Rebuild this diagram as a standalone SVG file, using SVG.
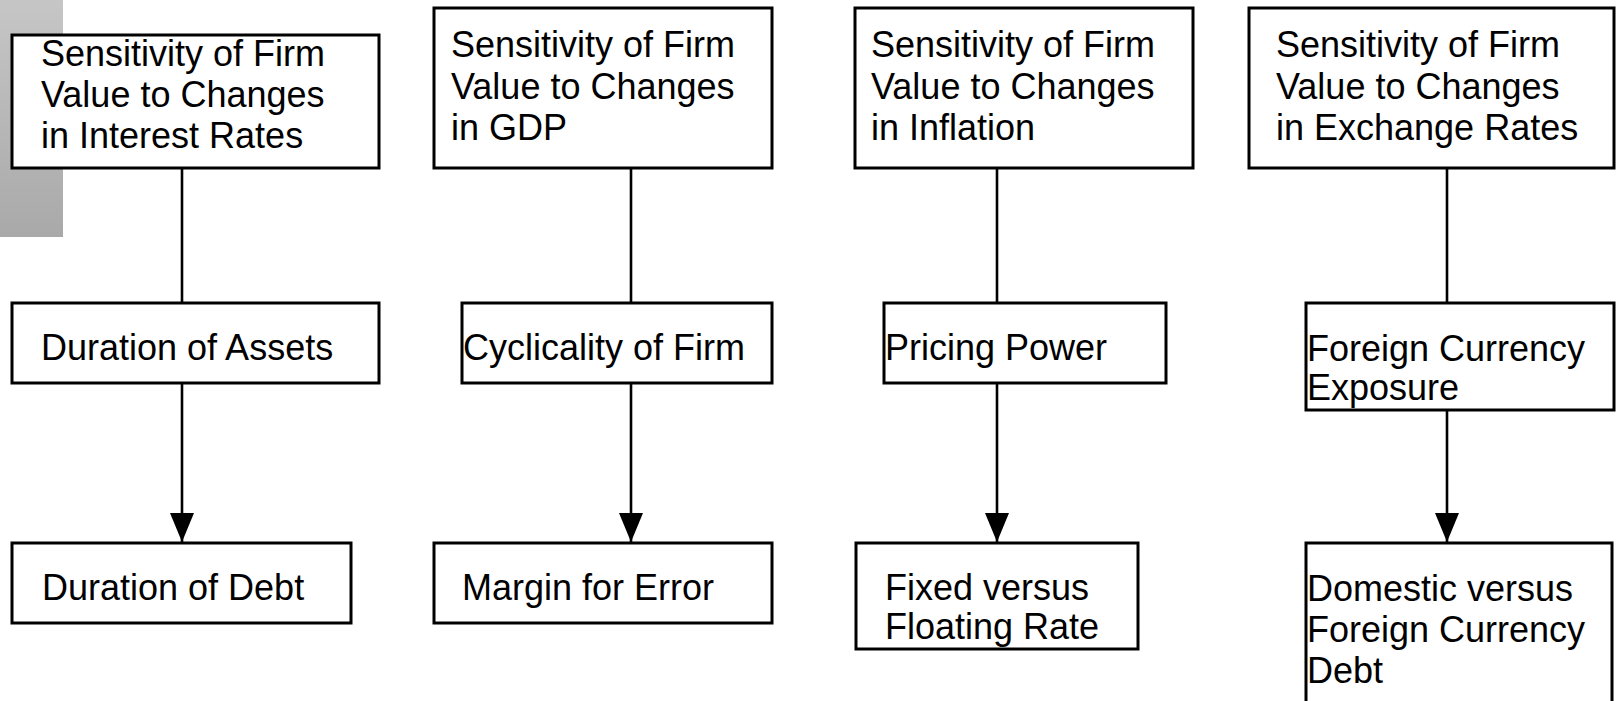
<svg xmlns="http://www.w3.org/2000/svg" width="1616" height="701" viewBox="0 0 1616 701">
<defs>
<linearGradient id="g" x1="0" y1="0" x2="0" y2="1">
<stop offset="0" stop-color="#c6c6c6"/>
<stop offset="1" stop-color="#a9a9a9"/>
</linearGradient>
<marker id="arr" markerUnits="userSpaceOnUse" markerWidth="30" markerHeight="24" refX="29" refY="12" orient="auto" viewBox="0 0 30 24">
<path d="M0,0 L29,12 L0,24 Z" fill="#000"/>
</marker>
</defs>
<style>
.box{fill:#fff;stroke:#000;stroke-width:3}
.t{font-family:"Liberation Sans",Arial,Helvetica,sans-serif;font-size:36px;fill:#000}
.c{stroke:#000;stroke-width:2.6;fill:none}
</style>
<rect x="0" y="0" width="63" height="237" fill="url(#g)"/>
<g id="connectors">
<line class="c" x1="182" y1="168" x2="182" y2="303"/>
<line class="c" x1="182" y1="383" x2="182" y2="542" marker-end="url(#arr)"/>
<line class="c" x1="631" y1="168" x2="631" y2="303"/>
<line class="c" x1="631" y1="383" x2="631" y2="542" marker-end="url(#arr)"/>
<line class="c" x1="997" y1="168" x2="997" y2="303"/>
<line class="c" x1="997" y1="383" x2="997" y2="542" marker-end="url(#arr)"/>
<line class="c" x1="1447" y1="168" x2="1447" y2="303"/>
<line class="c" x1="1447" y1="410" x2="1447" y2="542" marker-end="url(#arr)"/>
</g>
<g id="top1"><rect class="box" x="12" y="35" width="367" height="133"/>
<text class="t" x="41" y="66">Sensitivity of Firm</text><text class="t" x="41" y="107">Value to Changes</text><text class="t" x="41" y="148">in Interest Rates</text></g>
<g id="top2"><rect class="box" x="434" y="8" width="338" height="160"/>
<text class="t" x="451" y="57">Sensitivity of Firm</text><text class="t" x="451" y="99">Value to Changes</text><text class="t" x="451" y="140">in GDP</text></g>
<g id="top3"><rect class="box" x="855" y="8" width="338" height="160"/>
<text class="t" x="871" y="57">Sensitivity of Firm</text><text class="t" x="871" y="99">Value to Changes</text><text class="t" x="871" y="140">in Inflation</text></g>
<g id="top4"><rect class="box" x="1249" y="8" width="365" height="160"/>
<text class="t" x="1276" y="57">Sensitivity of Firm</text><text class="t" x="1276" y="99">Value to Changes</text><text class="t" x="1276" y="140">in Exchange Rates</text></g>
<g id="mid1"><rect class="box" x="12" y="303" width="367" height="80"/>
<text class="t" x="41" y="360">Duration of Assets</text></g>
<g id="mid2"><rect class="box" x="462" y="303" width="310" height="80"/>
<text class="t" x="463" y="360">Cyclicality of Firm</text></g>
<g id="mid3"><rect class="box" x="884" y="303" width="282" height="80"/>
<text class="t" x="885" y="360">Pricing Power</text></g>
<g id="mid4"><rect class="box" x="1306" y="303" width="308" height="107"/>
<text class="t" x="1307" y="361">Foreign Currency</text><text class="t" x="1307" y="400">Exposure</text></g>
<g id="bot1"><rect class="box" x="12" y="543" width="339" height="80"/>
<text class="t" x="42" y="600">Duration of Debt</text></g>
<g id="bot2"><rect class="box" x="434" y="543" width="338" height="80"/>
<text class="t" x="462" y="600">Margin for Error</text></g>
<g id="bot3"><rect class="box" x="856" y="543" width="282" height="106"/>
<text class="t" x="885" y="600">Fixed versus</text><text class="t" x="885" y="639">Floating Rate</text></g>
<g id="bot4"><rect class="box" x="1306" y="543" width="306" height="170"/>
<text class="t" x="1307" y="601">Domestic versus</text><text class="t" x="1307" y="642">Foreign Currency</text><text class="t" x="1307" y="683">Debt</text></g>
</svg>
